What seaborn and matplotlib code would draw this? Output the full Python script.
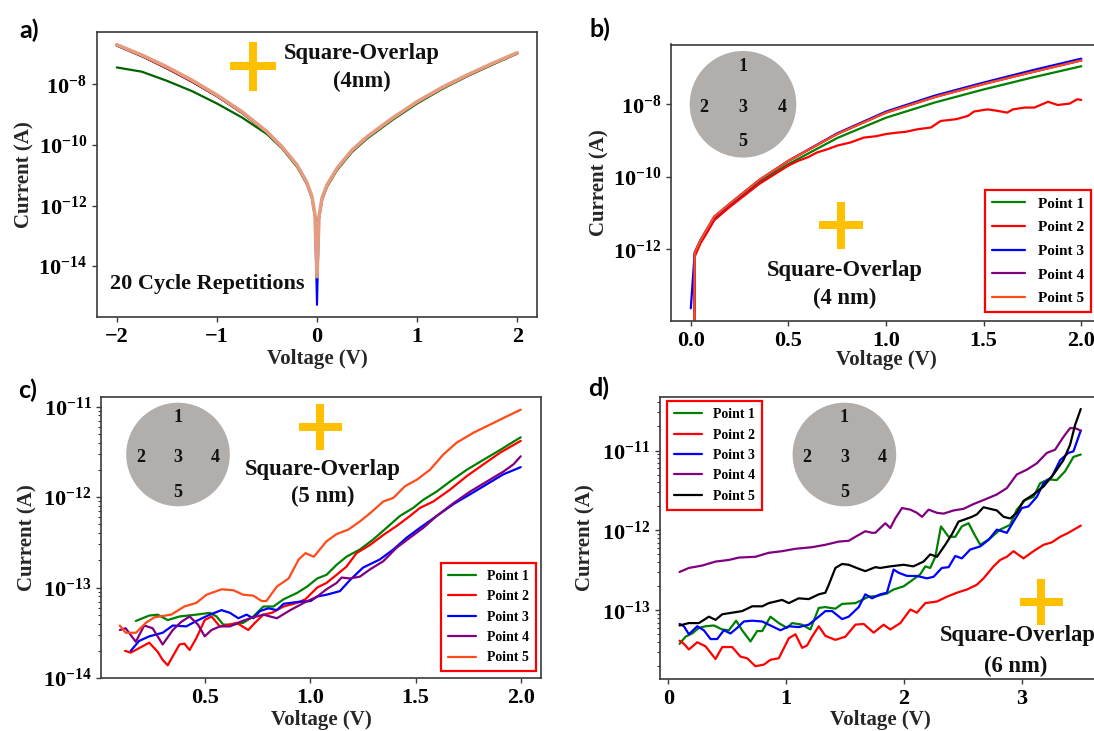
import numpy as np
import matplotlib
matplotlib.use("Agg")
import matplotlib.pyplot as plt
import seaborn as sns
from matplotlib.patches import Ellipse
from matplotlib.lines import Line2D
from matplotlib.ticker import NullLocator, NullFormatter, LogLocator

# ---------------- data (log10 of current in A) ----------------
# panel a : 20 cycle repetitions, square overlap 4 nm
a_voltage = [-2.0, -1.75, -1.5, -1.25, -1.0, -0.75, -0.5, -0.35, -0.2, -0.1, -0.05, -0.02, 0.0,
             0.02, 0.05, 0.1, 0.2, 0.35, 0.5, 0.75, 1.0, 1.25, 1.5, 1.75, 2.0]
a_cycle_salmon = [-6.69, -7.03, -7.42, -7.86, -8.35, -8.90, -9.56, -10.06, -10.66, -11.25, -11.71, -12.31, -14.35,
                  -12.37, -11.76, -11.32, -10.77, -10.17, -9.73, -9.12, -8.57, -8.10, -7.69, -7.31, -6.955]
a_cycle_red = [-6.71, -7.06, -7.46, -7.90, -8.38, -8.93, -9.58, -10.08, -10.68, -11.27, -11.73, -12.33, -12.80,
               -12.39, -11.78, -11.34, -10.79, -10.19, -9.75, -9.14, -8.59, -8.12, -7.71, -7.33, -6.97]
a_cycle_green = [-7.44, -7.58, -7.88, -8.22, -8.63, -9.09, -9.64, -10.11, -10.72, -11.30, -11.76, -12.36, -12.60,
                 -12.42, -11.82, -11.38, -10.83, -10.23, -9.79, -9.18, -8.63, -8.15, -7.73, -7.35, -6.98]
a_cycle_blue = [-6.71, -7.06, -7.46, -7.90, -8.38, -8.93, -9.58, -10.08, -10.68, -11.27, -11.73, -12.33, -15.28,
                -12.39, -11.78, -11.34, -10.79, -10.19, -9.75, -9.14, -8.59, -8.12, -7.71, -7.33, -6.97]
a_cycle_black = [-6.72, -7.07, -7.47, -7.91, -8.39, -8.94, -9.59, -10.09, -10.69, -11.28, -11.74, -12.34, -12.92,
                 -12.40, -11.79, -11.35, -10.80, -10.20, -9.76, -9.15, -8.60, -8.13, -7.72, -7.34, -6.98]

# panel b : five points, 4 nm
b_voltage = [0.0, 0.02, 0.05, 0.08, 0.12, 0.2, 0.35, 0.5, 0.75, 1.0, 1.25, 1.5, 1.75, 2.0]
b_point1 = [-30.0, -12.17, -11.80, -11.53, -11.16, -10.79, -10.15, -9.65, -8.93, -8.37, -7.95, -7.59, -7.26, -6.95]
b_point3 = [-13.63, -12.08, -11.75, -11.48, -11.11, -10.75, -10.10, -9.56, -8.80, -8.20, -7.76, -7.40, -7.06, -6.74]
b_point4 = [-30.0, -12.10, -11.75, -11.47, -11.10, -10.74, -10.09, -9.56, -8.82, -8.23, -7.80, -7.44, -7.11, -6.79]
b_point5 = [-30.0, -12.10, -11.75, -11.47, -11.10, -10.74, -10.09, -9.56, -8.82, -8.23, -7.80, -7.44, -7.11, -6.79]
b_point2_voltage = [0.0, 0.02, 0.05, 0.08, 0.12, 0.2, 0.35, 0.5, 0.55, 0.6, 0.646, 0.7, 0.75, 0.82, 0.885, 0.95,
                    1.0, 1.06, 1.1, 1.16, 1.23, 1.28, 1.36, 1.42, 1.45, 1.52, 1.57, 1.62, 1.65, 1.71, 1.76,
                    1.83, 1.88, 1.94, 1.98, 2.0]
b_point2 = [-30.0, -12.20, -11.83, -11.57, -11.20, -10.83, -10.20, -9.69, -9.56, -9.46, -9.33, -9.24, -9.14,
            -9.05, -8.92, -8.88, -8.82, -8.78, -8.76, -8.69, -8.64, -8.46, -8.41, -8.32, -8.20, -8.14, -8.18,
            -8.23, -8.14, -8.09, -8.09, -7.93, -8.02, -7.98, -7.86, -7.88]

# panel c : five points, 5 nm
c_point1_voltage = [0.169, 0.233, 0.273, 0.321, 0.377, 0.457, 0.521, 0.553, 0.585, 0.633, 0.68, 0.728, 0.776,
                    0.824, 0.872, 0.936, 0.984, 1.032, 1.076, 1.124, 1.171, 1.235, 1.298, 1.362, 1.425, 1.489,
                    1.537, 1.6, 1.663, 1.743, 1.822, 1.902, 2.0]
c_point1 = [-13.37, -13.31, -13.30, -13.36, -13.32, -13.30, -13.28, -13.32, -13.41, -13.41, -13.39, -13.32, -13.21,
            -13.21, -13.13, -13.06, -12.99, -12.90, -12.86, -12.75, -12.66, -12.58, -12.47, -12.34, -12.21, -12.12,
            -12.03, -11.94, -11.83, -11.70, -11.59, -11.48, -11.34]
c_point2_voltage = [0.118, 0.145, 0.185, 0.233, 0.273, 0.297, 0.321, 0.345, 0.377, 0.4, 0.425, 0.457, 0.497, 0.529,
                    0.569, 0.617, 0.649, 0.704, 0.736, 0.776, 0.816, 0.872, 0.936, 0.976, 1.032, 1.076, 1.124,
                    1.171, 1.219, 1.283, 1.346, 1.41, 1.473, 1.521, 1.584, 1.663, 1.743, 1.822, 1.902, 2.0]
c_point2 = [-13.70, -13.72, -13.67, -13.61, -13.71, -13.80, -13.86, -13.76, -13.63, -13.62, -13.69, -13.56, -13.36,
            -13.32, -13.43, -13.41, -13.39, -13.47, -13.39, -13.30, -13.28, -13.21, -13.17, -13.13, -13.00, -12.95,
            -12.86, -12.77, -12.62, -12.53, -12.42, -12.32, -12.21, -12.12, -12.05, -11.92, -11.77, -11.64, -11.51,
            -11.38]
c_point3_voltage = [0.145, 0.185, 0.233, 0.297, 0.345, 0.409, 0.457, 0.521, 0.577, 0.617, 0.657, 0.696, 0.728, 0.76,
                    0.8, 0.84, 0.872, 0.936, 1.0, 1.032, 1.076, 1.14, 1.187, 1.25, 1.33, 1.394, 1.457, 1.521, 1.6,
                    1.679, 1.759, 1.838, 1.917, 2.0]
c_point3 = [-13.70, -13.59, -13.54, -13.50, -13.42, -13.43, -13.37, -13.30, -13.25, -13.28, -13.34, -13.30, -13.34,
            -13.26, -13.23, -13.25, -13.18, -13.16, -13.15, -13.10, -13.08, -13.04, -12.92, -12.78, -12.69, -12.58,
            -12.45, -12.34, -12.21, -12.08, -11.97, -11.86, -11.75, -11.67]
c_point4_voltage = [0.093, 0.121, 0.169, 0.209, 0.249, 0.297, 0.345, 0.385, 0.425, 0.465, 0.497, 0.529, 0.569, 0.617,
                    0.665, 0.712, 0.776, 0.84, 0.904, 0.968, 1.032, 1.076, 1.124, 1.148, 1.187, 1.235, 1.283, 1.346,
                    1.41, 1.473, 1.537, 1.6, 1.679, 1.759, 1.838, 1.917, 1.965, 2.0]
c_point4 = [-13.47, -13.45, -13.60, -13.42, -13.45, -13.63, -13.47, -13.38, -13.32, -13.41, -13.54, -13.47, -13.43,
            -13.43, -13.38, -13.34, -13.30, -13.34, -13.25, -13.17, -13.10, -13.02, -12.95, -12.89, -12.90, -12.88,
            -12.80, -12.71, -12.56, -12.45, -12.34, -12.21, -12.07, -11.94, -11.83, -11.72, -11.64, -11.55]
c_point5_voltage = [0.093, 0.121, 0.17, 0.217, 0.257, 0.337, 0.4, 0.457, 0.505, 0.577, 0.633, 0.68, 0.728, 0.768,
                    0.79, 0.84, 0.896, 0.944, 0.976, 1.016, 1.076, 1.124, 1.18, 1.235, 1.283, 1.346, 1.394, 1.45,
                    1.505, 1.568, 1.632, 1.695, 1.775, 1.854, 1.933, 2.0]
c_point5 = [-13.42, -13.50, -13.50, -13.39, -13.33, -13.30, -13.21, -13.17, -13.08, -13.02, -13.03, -13.08, -13.09,
            -13.15, -13.15, -12.99, -12.90, -12.69, -12.62, -12.66, -12.49, -12.41, -12.36, -12.27, -12.18, -12.05,
            -12.01, -11.88, -11.81, -11.70, -11.53, -11.40, -11.29, -11.20, -11.11, -11.035]

# panel d : five points, 6 nm
d_point1_voltage = [0.096, 0.147, 0.203, 0.26, 0.316, 0.387, 0.458, 0.514, 0.576, 0.627, 0.698, 0.754, 0.797, 0.867,
                    0.938, 1.008, 1.051, 1.136, 1.206, 1.277, 1.333, 1.418, 1.475, 1.588, 1.701, 1.771, 1.855,
                    1.912, 1.997, 2.054, 2.138, 2.181, 2.223, 2.266, 2.314, 2.379, 2.435, 2.491, 2.548, 2.59,
                    2.647, 2.731, 2.816, 2.901, 2.957, 3.028, 3.099, 3.155, 3.226, 3.296, 3.367, 3.438, 3.5]
d_point1 = [-13.42, -13.33, -13.29, -13.22, -13.20, -13.19, -13.24, -13.25, -13.13, -13.25, -13.39, -13.26, -13.26,
            -13.08, -13.16, -13.22, -13.16, -13.18, -13.24, -12.97, -12.96, -12.98, -12.92, -12.91, -12.83, -12.82,
            -12.79, -12.74, -12.70, -12.64, -12.55, -12.45, -12.47, -12.33, -11.95, -12.08, -12.08, -11.95, -11.91,
            -12.03, -12.18, -12.10, -11.99, -11.93, -11.74, -11.62, -11.58, -11.41, -11.36, -11.37, -11.26, -11.08,
            -11.05]
d_point2_voltage = [0.096, 0.133, 0.175, 0.246, 0.316, 0.401, 0.458, 0.542, 0.613, 0.669, 0.74, 0.811, 0.867, 0.938,
                    1.023, 1.079, 1.136, 1.178, 1.22, 1.277, 1.333, 1.418, 1.503, 1.588, 1.658, 1.743, 1.827,
                    1.884, 1.969, 2.054, 2.11, 2.181, 2.28, 2.364, 2.449, 2.534, 2.618, 2.675, 2.76, 2.816, 2.873,
                    2.929, 3.014, 3.099, 3.184, 3.254, 3.325, 3.395, 3.5]
d_point2 = [-13.38, -13.42, -13.49, -13.40, -13.45, -13.61, -13.46, -13.46, -13.58, -13.60, -13.70, -13.68, -13.62,
            -13.60, -13.35, -13.30, -13.47, -13.44, -13.33, -13.20, -13.32, -13.37, -13.33, -13.18, -13.17, -13.28,
            -13.18, -13.24, -13.16, -12.99, -13.03, -12.91, -12.89, -12.83, -12.78, -12.74, -12.68, -12.60, -12.45,
            -12.37, -12.33, -12.26, -12.35, -12.26, -12.18, -12.15, -12.08, -12.03, -11.94]
d_point3_voltage = [0.096, 0.133, 0.175, 0.246, 0.302, 0.359, 0.415, 0.472, 0.528, 0.585, 0.641, 0.712, 0.797, 0.881,
                    0.952, 1.023, 1.107, 1.192, 1.277, 1.333, 1.39, 1.475, 1.531, 1.616, 1.672, 1.729, 1.799,
                    1.855, 1.912, 1.955, 2.026, 2.11, 2.195, 2.252, 2.321, 2.379, 2.435, 2.491, 2.562, 2.647,
                    2.717, 2.788, 2.873, 2.929, 3.0, 3.056, 3.127, 3.184, 3.254, 3.325, 3.395, 3.438, 3.5]
d_point3 = [-13.17, -13.20, -13.30, -13.20, -13.25, -13.36, -13.36, -13.25, -13.29, -13.22, -13.14, -13.13, -13.14,
            -13.20, -13.25, -13.20, -13.21, -13.18, -13.08, -13.01, -13.01, -13.11, -13.08, -12.96, -12.80, -12.85,
            -12.80, -12.78, -12.49, -12.53, -12.57, -12.57, -12.60, -12.58, -12.47, -12.46, -12.32, -12.35, -12.24,
            -12.20, -12.12, -11.99, -12.03, -11.89, -11.72, -11.70, -11.58, -11.41, -11.33, -11.12, -11.03, -11.01,
            -10.75]
d_point4_voltage = [0.096, 0.175, 0.288, 0.401, 0.514, 0.599, 0.74, 0.853, 0.966, 1.079, 1.22, 1.333, 1.446, 1.531,
                    1.588, 1.672, 1.729, 1.757, 1.799, 1.842, 1.884, 1.926, 1.983, 2.054, 2.11, 2.153, 2.209, 2.28,
                    2.336, 2.421, 2.505, 2.59, 2.675, 2.788, 2.873, 2.957, 3.042, 3.127, 3.212, 3.282, 3.353,
                    3.409, 3.452, 3.5]
d_point4 = [-12.52, -12.47, -12.44, -12.39, -12.37, -12.34, -12.33, -12.28, -12.26, -12.23, -12.21, -12.18, -12.14,
            -12.13, -12.08, -12.01, -12.03, -12.03, -11.97, -11.91, -11.97, -11.85, -11.72, -11.74, -11.78, -11.83,
            -11.74, -11.78, -11.79, -11.75, -11.73, -11.67, -11.62, -11.55, -11.47, -11.30, -11.24, -11.16, -11.03,
            -10.99, -10.83, -10.72, -10.72, -10.75]
d_point5_voltage = [0.096, 0.175, 0.26, 0.345, 0.401, 0.458, 0.542, 0.627, 0.712, 0.797, 0.853, 0.91, 0.966, 1.023,
                    1.107, 1.192, 1.277, 1.333, 1.362, 1.418, 1.475, 1.531, 1.616, 1.672, 1.757, 1.799, 1.884,
                    1.997, 2.08, 2.166, 2.223, 2.28, 2.35, 2.406, 2.463, 2.52, 2.576, 2.618, 2.675, 2.731, 2.788,
                    2.845, 2.901, 2.957, 3.014, 3.099, 3.184, 3.268, 3.353, 3.409, 3.452, 3.5]
d_point5 = [-13.19, -13.16, -13.16, -13.08, -13.12, -13.05, -13.03, -13.01, -12.95, -12.95, -12.91, -12.89, -12.87,
            -12.91, -12.85, -12.86, -12.80, -12.78, -12.68, -12.47, -12.42, -12.43, -12.48, -12.51, -12.46, -12.47,
            -12.45, -12.43, -12.45, -12.39, -12.30, -12.33, -12.18, -12.05, -11.89, -11.86, -11.83, -11.80, -11.71,
            -11.73, -11.75, -11.83, -11.85, -11.78, -11.63, -11.55, -11.45, -11.30, -11.12, -10.93, -10.68, -10.48]

point_labels = ["Point 1", "Point 2", "Point 3", "Point 4", "Point 5"]
circle_numbers = ["1", "2", "3", "4", "5"]

# ---------------- style ----------------
sns.set_theme(style="ticks")
plt.rcParams.update({
    "font.family": ["Liberation Serif", "DejaVu Serif"],
    "font.weight": "bold",
    "axes.labelweight": "bold",
    "mathtext.fontset": "custom",
    "mathtext.rm": "Liberation Serif:bold",
    "mathtext.bf": "Liberation Serif:bold",
    "mathtext.it": "Liberation Serif:bold:italic",
    "mathtext.sf": "Liberation Serif:bold",
    "axes.edgecolor": "#3a3a3a",
    "axes.linewidth": 1.2,
    "xtick.color": "#3a3a3a",
    "ytick.color": "#3a3a3a",
    "xtick.labelcolor": "black",
    "ytick.labelcolor": "black",
    "xtick.direction": "out",
    "ytick.direction": "out",
    "xtick.major.size": 3.5,
    "ytick.major.size": 3.5,
    "xtick.major.width": 1.0,
    "ytick.major.width": 1.0,
    "ytick.minor.size": 2.0,
    "ytick.minor.width": 0.8,
    "axes.facecolor": "white",
    "figure.facecolor": "white",
})

W, H = 1094, 731
fig = plt.figure(figsize=(W / 100, H / 100), dpi=100)


def fx(x):
    return x / W


def fy(y):
    return 1 - y / H


def add_ax(l, t, r, b):
    return fig.add_axes([l / W, 1 - b / H, (r - l) / W, (b - t) / H])


def draw(ax, v, logi, color, lw, label=None, z=2):
    sns.lineplot(x=np.asarray(v, float), y=10.0 ** np.asarray(logi, float), color=color,
                 linewidth=lw, label=label, ax=ax, estimator=None, sort=False, zorder=z)


GREEN, RED, BLUE, PURPLE, ORANGE = "#008000", "#ff0000", "#0000ff", "#800080", "#ff4a1a"
YELLOW = "#ffc000"
GRAY = "#b2aeac"

axa = add_ax(96.7, 31.7, 537.3, 317.3)
axb = add_ax(671.3, 44.5, 1100.8, 321.0)
axc = add_ax(101.3, 397.0, 540.7, 678.0)
axd = add_ax(660.0, 397.0, 1100.8, 679.0)
for ax in (axa, axb, axc, axd):
    ax.set_yscale("log")

# panel a
draw(axa, a_voltage, a_cycle_blue, BLUE, 1.5)
draw(axa, a_voltage, a_cycle_black, "black", 1.5)
draw(axa, a_voltage, a_cycle_green, "#006400", 1.6)
draw(axa, a_voltage, a_cycle_red, RED, 1.5)
draw(axa, a_voltage, a_cycle_salmon, "#e39c80", 2.6, z=3)
axa.set_xlim(-2.2, 2.2)
axa.set_ylim(10 ** -15.69, 10 ** -6.26)
axa.set_xticks([-2, -1, 0, 1, 2])
axa.set_yticks([1e-14, 1e-12, 1e-10, 1e-8])
axa.yaxis.set_minor_locator(NullLocator())

# panel b
draw(axb, b_voltage, b_point1, GREEN, 1.6, point_labels[0])
draw(axb, b_point2_voltage, b_point2, RED, 1.6, point_labels[1])
draw(axb, b_voltage, b_point3, BLUE, 1.6, point_labels[2])
draw(axb, b_voltage, b_point4, PURPLE, 1.6, point_labels[3])
draw(axb, b_voltage, b_point5, ORANGE, 1.6, point_labels[4])
axb.set_xlim(-0.1, 2.1)
axb.set_ylim(10 ** -13.98, 10 ** -6.35)
axb.set_xticks([0.0, 0.5, 1.0, 1.5, 2.0])
axb.set_yticks([1e-12, 1e-10, 1e-8])
axb.yaxis.set_minor_locator(NullLocator())

# panel c
draw(axc, c_point1_voltage, c_point1, GREEN, 1.6, point_labels[0])
draw(axc, c_point2_voltage, c_point2, RED, 1.6, point_labels[1])
draw(axc, c_point3_voltage, c_point3, BLUE, 1.6, point_labels[2])
draw(axc, c_point4_voltage, c_point4, PURPLE, 1.6, point_labels[3])
draw(axc, c_point5_voltage, c_point5, ORANGE, 1.6, point_labels[4])
axc.set_xlim(0.005, 2.095)
axc.set_ylim(1e-14, 10 ** -10.895)
axc.set_xticks([0.5, 1.0, 1.5, 2.0])
axc.set_yticks([1e-14, 1e-13, 1e-12, 1e-11])

# panel d
draw(axd, d_point1_voltage, d_point1, GREEN, 1.6, point_labels[0])
draw(axd, d_point2_voltage, d_point2, RED, 1.6, point_labels[1])
draw(axd, d_point3_voltage, d_point3, BLUE, 1.6, point_labels[2])
draw(axd, d_point4_voltage, d_point4, PURPLE, 1.6, point_labels[3])
draw(axd, d_point5_voltage, d_point5, "black", 1.6, point_labels[4])
axd.set_xlim(-0.07, 3.67)
axd.set_ylim(10 ** -13.86, 10 ** -10.33)
axd.set_xticks([0, 1, 2, 3])
axd.set_yticks([1e-13, 1e-12, 1e-11])

for ax in (axc, axd):
    ax.yaxis.set_minor_locator(LogLocator(base=10, subs=np.arange(2, 10), numticks=50))
    ax.yaxis.set_minor_formatter(NullFormatter())

for ax in (axa, axb, axc, axd):
    ax.tick_params(axis="both", which="major", labelsize=16)
    ax.set_xlabel("Voltage (V)", fontsize=15, fontweight="bold")
    ax.set_ylabel("Current (A)", fontsize=15, fontweight="bold")
    for s in ax.spines.values():
        s.set_visible(True)

axa.yaxis.set_label_coords(-0.142, 0.5)
axa.xaxis.set_label_coords(0.5, -0.111)
axb.yaxis.set_label_coords(-0.145, 0.5)
axb.xaxis.set_label_coords(0.5, -0.104)
axc.yaxis.set_label_coords(-0.145, 0.5)
axc.xaxis.set_label_coords(0.5, -0.114)
axd.yaxis.set_label_coords(-0.147, 0.5)
axd.xaxis.set_label_coords(0.5, -0.110)

if axa.get_legend() is not None:
    axa.get_legend().remove()


def make_legend(ax, loc, anchor, size, hl, htp, ls, bp):
    leg = ax.legend(loc=loc, bbox_to_anchor=anchor, borderaxespad=0, frameon=True, fancybox=False,
                    edgecolor="red", framealpha=1, facecolor="white",
                    prop={"family": "Liberation Serif", "weight": "bold", "size": size},
                    handlelength=hl, handletextpad=htp, labelspacing=ls, borderpad=bp)
    leg.get_frame().set_linewidth(1.6)
    for t in leg.get_texts():
        t.set_color("black")
    return leg


make_legend(axb, "lower right", (0.9765, 0.0336), 11, 2.15, 0.85, 0.65, 0.43)
make_legend(axc, "lower right", (0.99, 0.0238), 10, 2.05, 0.81, 0.53, 0.50)
make_legend(axd, "upper left", (0.0152, 0.9848), 10, 2.05, 0.81, 0.53, 0.50)


# ---------------- decorations ----------------
def wafer(cx, cy, r, dx, dtop, drow, dbot):
    fig.add_artist(Ellipse((fx(cx), fy(cy)), 2 * r / W, 2 * r / H, transform=fig.transFigure,
                           facecolor=GRAY, edgecolor="none", zorder=4))
    pos = [(cx, cy + dtop), (cx - dx, cy + drow), (cx, cy + drow), (cx + dx, cy + drow), (cx, cy + dbot)]
    for (x, y), s in zip(pos, circle_numbers):
        fig.text(fx(x), fy(y), s, ha="center", va="center", fontsize=13, fontweight="bold",
                 family="Liberation Serif", color="#111111", zorder=5)


def plus(cx, cy, w, h, lw_px=8):
    lw = lw_px * 72 / 100
    fig.add_artist(Line2D([fx(cx - w / 2), fx(cx + w / 2)], [fy(cy), fy(cy)], transform=fig.transFigure,
                          color=YELLOW, linewidth=lw, solid_capstyle="butt", zorder=5))
    fig.add_artist(Line2D([fx(cx), fx(cx)], [fy(cy - h / 2), fy(cy + h / 2)], transform=fig.transFigure,
                          color=YELLOW, linewidth=lw, solid_capstyle="butt", zorder=5))


def label(x, y, s, size=16.3):
    fig.text(fx(x), fy(y), s, ha="center", va="center", fontsize=size, fontweight="bold",
             family="Liberation Serif", color="#111111", zorder=6)


wafer(743.0, 104.3, 53.3, 39.0, -37.6, 3.4, 37.4)
wafer(178.0, 454.5, 51.8, 37.3, -36.5, 2.8, 37.8)
wafer(844.4, 454.5, 51.8, 37.5, -36.5, 2.8, 37.8)

plus(253.3, 66.0, 46, 49)
plus(840.7, 225.0, 44, 47)
plus(320.4, 426.7, 43, 46)
plus(1041.0, 602.3, 43, 46)

label(361.5, 54.0, "Square-Overlap")
label(361.7, 81.7, "(4nm)")
label(206.8, 284.0, "20 Cycle Repetitions", 16)
label(844.3, 270.8, "Square-Overlap")
label(845.0, 298.0, "(4 nm)")
label(322.3, 469.0, "Square-Overlap")
label(322.7, 496.7, "(5 nm)")
label(1018.0, 636.0, "Square-Overlap")
label(1016.0, 666.0, "(6 nm)")

for (x, y), s in zip([(29.5, 30.5), (599.5, 29.0), (27.7, 390.0), (599.0, 388.0)], ["a)", "b)", "c)", "d)"]):
    fig.text(fx(x), fy(y), s, ha="center", va="center", fontsize=18, fontweight="bold",
             family=["Lato", "DejaVu Sans"], color="black")

fig.savefig("out.png", dpi=100)
